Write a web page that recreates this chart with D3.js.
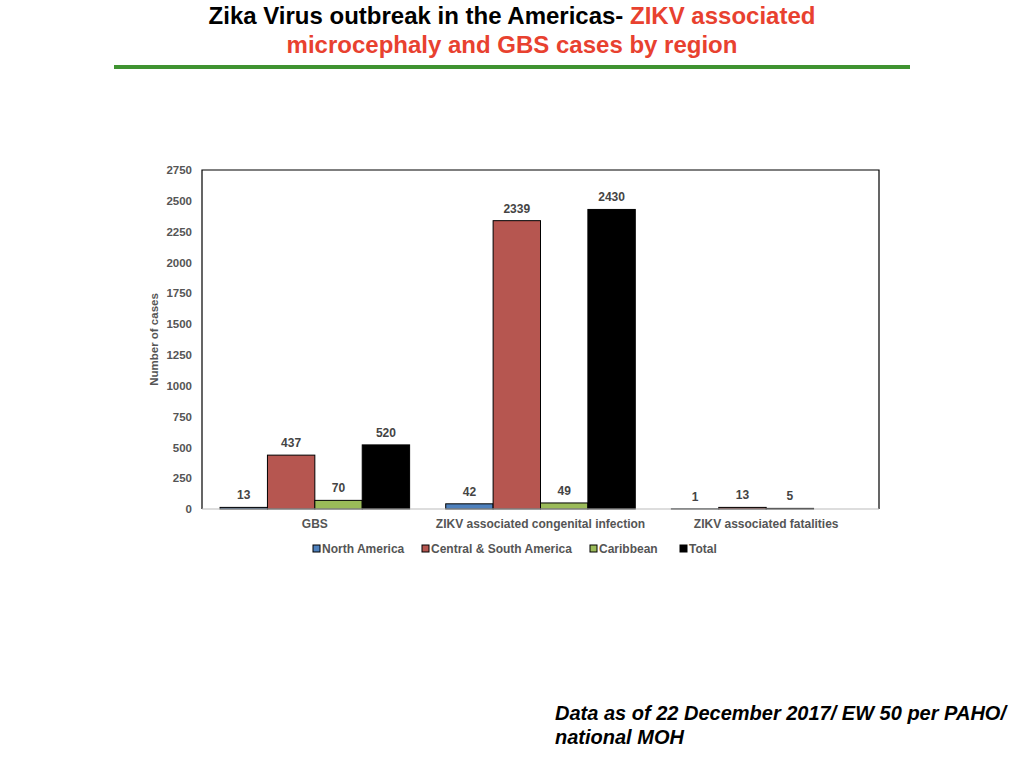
<!DOCTYPE html>
<html>
<head>
<meta charset="utf-8">
<script src="https://cdn.jsdelivr.net/npm/d3@7"></script>
<style>
  body { margin: 0; background: #fff; }
  text { font-family: "Liberation Sans", Arial, sans-serif; }
</style>
</head>
<body>
<div id="chart"></div>
<script>
// Data
const categories = ["GBS", "ZIKV associated congenital infection", "ZIKV associated fatalities"];
const regions = ["North America", "Central & South America", "Caribbean", "Total"];
const northAmerica = [13, 42, 1];
const centralSouth = [437, 2339, 13];
const caribbean = [70, 49, 5];
const total = [520, 2430, null];
const yTicks = [0, 250, 500, 750, 1000, 1250, 1500, 1750, 2000, 2250, 2500, 2750];
const colors = ["#4f81bd", "#b65650", "#9bbb59", "#000000"];

const seriesValues = [northAmerica, centralSouth, caribbean, total];

const W = 1024, H = 768;
const svg = d3.select("#chart").append("svg")
    .attr("width", W)
    .attr("height", H);

// Title
const title = svg.append("text")
    .attr("text-anchor", "middle")
    .style("font-family", "'Liberation Sans Narrow', 'Liberation Sans', sans-serif")
    .style("font-weight", "bold")
    .style("font-size", "24px");
const t1 = title.append("tspan").attr("x", 512).attr("y", 24);
t1.append("tspan").attr("fill", "#000").text("Zika Virus outbreak in the Americas- ");
t1.append("tspan").attr("fill", "#e8412f").text("ZIKV associated");
title.append("tspan").attr("x", 512).attr("y", 53).attr("fill", "#e8412f")
    .text("microcephaly and GBS cases by region");

svg.append("rect")
    .attr("x", 114).attr("y", 65)
    .attr("width", 796).attr("height", 4)
    .attr("fill", "#3f9331");

// Plot area
const plot = {left: 202, right: 879, top: 170, bottom: 509};

const x0 = d3.scaleBand()
    .domain(categories)
    .range([plot.left, plot.right])
    .paddingInner(0.16)
    .paddingOuter(0.08);

const x1 = d3.scaleBand()
    .domain(regions)
    .range([0, x0.bandwidth()]);

const y = d3.scaleLinear()
    .domain([0, 2750])
    .range([plot.bottom, plot.top]);

// Frame
svg.append("path")
    .attr("d", `M${plot.left},${plot.bottom}V${plot.top}H${plot.right}V${plot.bottom}`)
    .attr("fill", "none")
    .attr("stroke", "#000")
    .attr("stroke-width", 1.2);

// Bars
categories.forEach((cat, ci) => {
    const g = svg.append("g").attr("transform", `translate(${x0(cat)},0)`);
    regions.forEach((reg, ri) => {
        const v = seriesValues[ri][ci];
        if (v == null) return;
        g.append("rect")
            .attr("x", x1(reg))
            .attr("y", y(v))
            .attr("width", x1.bandwidth())
            .attr("height", y(0) - y(v))
            .attr("fill", colors[ri])
            .attr("stroke", "#000")
            .attr("stroke-width", 1);
        g.append("text")
            .attr("x", x1(reg) + x1.bandwidth() / 2)
            .attr("y", y(v) - 8)
            .attr("text-anchor", "middle")
            .attr("fill", "#444")
            .style("font-size", "12px")
            .style("font-weight", "bold")
            .text(v);
    });
});

// Y axis
const yAxis = svg.append("g")
    .attr("transform", `translate(${plot.left},0)`)
    .call(d3.axisLeft(y).tickValues(yTicks).tickFormat(d3.format("d")).tickSize(0).tickPadding(10));
yAxis.select(".domain").remove();
yAxis.selectAll("text")
    .attr("fill", "#555")
    .style("font-size", "11.5px")
    .style("font-weight", "bold")
    .style("font-family", "'Liberation Sans', Arial, sans-serif");

// X axis
const xAxis = svg.append("g")
    .attr("transform", `translate(0,${plot.bottom})`)
    .call(d3.axisBottom(x0).tickSize(0).tickPadding(10));
xAxis.select(".domain")
    .attr("d", `M${plot.left},0H${plot.right}`)
    .attr("stroke", "#bbb");
xAxis.selectAll("text")
    .attr("fill", "#555")
    .style("font-size", "12px")
    .style("font-weight", "bold")
    .style("font-family", "'Liberation Sans', Arial, sans-serif");

// Y label
svg.append("text")
    .attr("transform", "rotate(-90)")
    .attr("x", -(plot.top + plot.bottom) / 2)
    .attr("y", 158)
    .attr("text-anchor", "middle")
    .attr("fill", "#555")
    .style("font-size", "11.5px")
    .style("font-weight", "bold")
    .text("Number of cases");

// Legend
const legendX = [313, 422, 590, 680];
const legend = svg.append("g").attr("transform", "translate(0,549)");
regions.forEach((reg, i) => {
    const item = legend.append("g").attr("transform", `translate(${legendX[i]},0)`);
    item.append("rect")
        .attr("x", 0).attr("y", -4)
        .attr("width", 7).attr("height", 7)
        .attr("fill", colors[i])
        .attr("stroke", "#000")
        .attr("stroke-width", 1);
    item.append("text")
        .attr("x", 9)
        .attr("y", 0)
        .attr("dy", "0.35em")
        .attr("fill", "#555")
        .style("font-size", "12px")
        .style("font-weight", "bold")
        .text(reg);
});

// Footer note
const note = svg.append("text")
    .attr("fill", "#000")
    .style("font-size", "20px")
    .style("font-weight", "bold")
    .style("font-style", "italic");
note.append("tspan").attr("x", 555).attr("y", 720).text("Data as of 22 December 2017/ EW 50 per PAHO/");
note.append("tspan").attr("x", 555).attr("y", 744).text("national MOH");
</script>
</body>
</html>
